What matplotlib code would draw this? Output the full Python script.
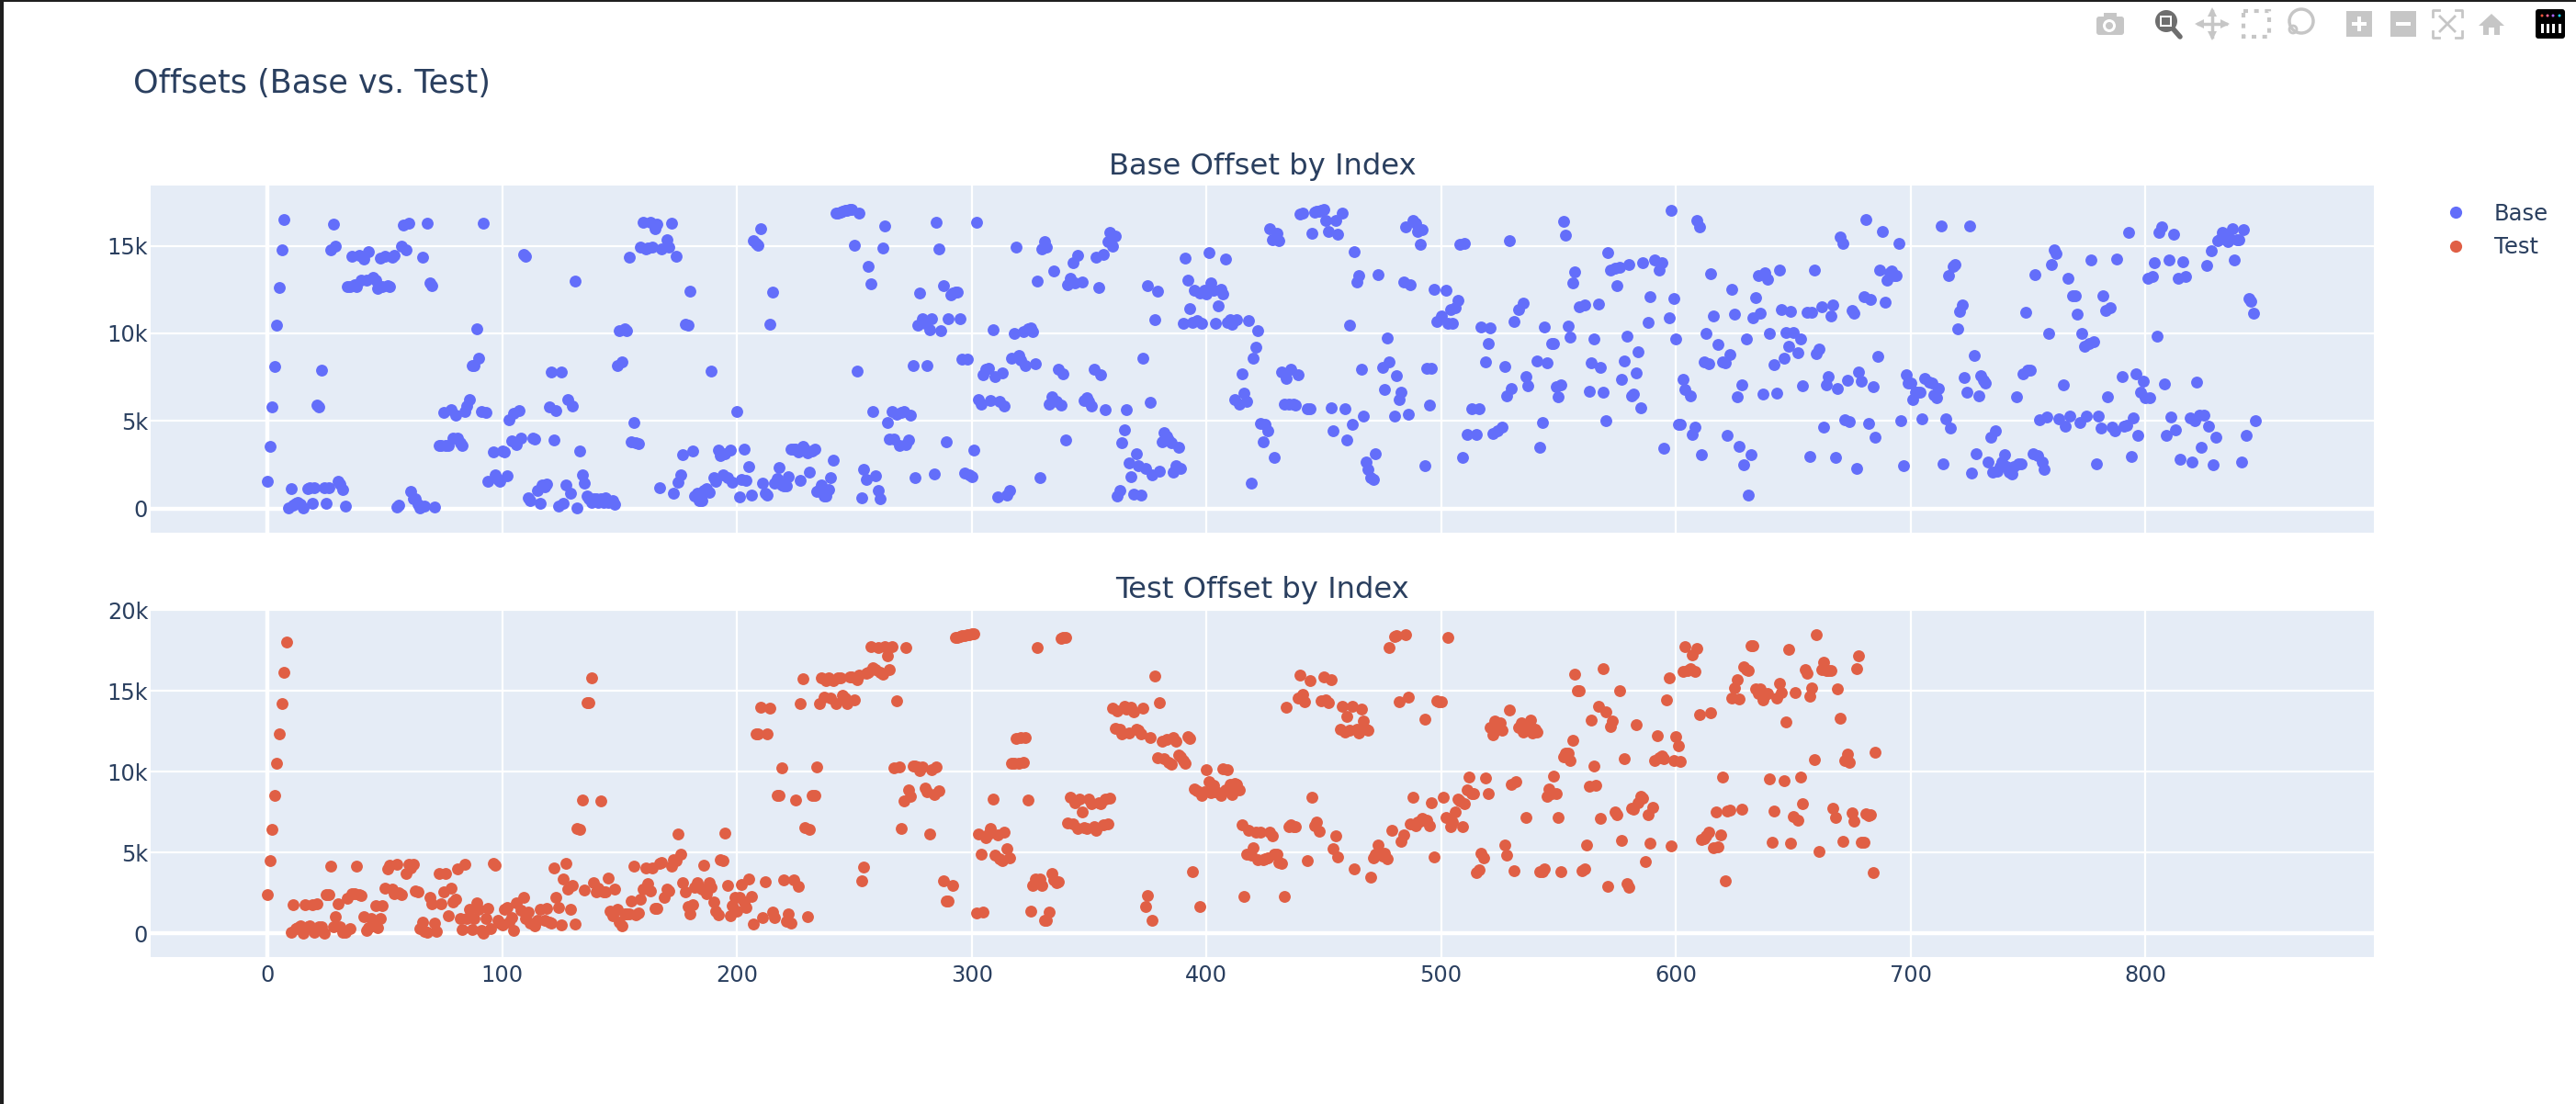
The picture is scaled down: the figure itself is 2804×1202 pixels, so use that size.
"""
Offsets (Base vs. Test): two stacked scatter panels in the plotly look.

Output:
- Saves the figure to: out.png
"""

import numpy as np
import matplotlib
matplotlib.use("Agg")
import matplotlib.pyplot as plt
from matplotlib.lines import Line2D
from matplotlib.patches import Circle, FancyBboxPatch, Rectangle

OUTPUT_PATH = "out.png"
FIG_W, FIG_H = 2804, 1202

BASE_COLOR = "#636efa"
TEST_COLOR = "#e05f45"
TEXT_COLOR = "#2a3f5f"
PLOT_BG = "#e5ecf6"
ICON_GRAY = "#c6c6c6"

# Offsets by position in the list: the position is the index, None where nothing could be read
BASE_OFFSET = [
    1540, 3570, 5800, 8120, 10450, 12620, 14760, 16500, None, 40,
    1160, 180, 300, 380, 240, 40, None, 1140, 1180, 300,
    1180, 5900, 5820, 7880, 1180, 280, 1220, 14780, 16250, 15000,
    1540, 1380, 1080, 160, 12650, 12650, 14400, 12780, 12650, 14480,
    13020, 14220, 13020, 14660, None, 13220, 13020, 12580, 14280, 12650,
    14420, 12740, 12650, 14360, 14480, 120, 180, 15000, 16190, 14760,
    16300, 1000, 540, 540, 240, 40, 14360, 140, 16270, 12880,
    12720, 100, None, 3610, 3590, 5480, 3600, 3630, 5660, 4030,
    5360, 4010, 3750, 3590, 5560, 5860, 6200, 8160, 8160, 10250,
    8570, 5540, 16290, 5480, 1580, None, 3250, 1950, 1650, 1580,
    3270, 3250, 1900, 5050, 3850, 5460, 3650, 5600, 4010, 14500,
    14420, 600, 440, 4010, 3990, 1040, 320, 1340, 1240, 1400,
    5820, 7820, 3930, 5620, 160, 7820, 300, 1360, 6220, 900,
    5860, 13000, 20, 3310, 1930, 1460, 700, 540, 340, 540,
    540, 340, 540, 340, 600, 340, None, 440, 260, 8160,
    10170, 8400, 10270, 10170, 14340, 3790, 4930, 3750, 3690, 14940,
    16350, 14820, 14880, 16350, 14940, 15990, 16230, 1220, 14820, None,
    15350, 14920, 16310, 860, 14380, 1500, 1930, 3090, 10530, 10450,
    12400, 3310, 720, 860, 460, 460, 1040, 1140, 940, 7860,
    1790, 1540, 3350, 3030, 1950, 3110, 1750, 3350, 1500, None,
    5520, 650, 1680, 3370, 1640, 2380, 770, 15270, 15130, 15040,
    15950, 1470, 890, 770, 10520, 12370, 1470, 1710, 2340, 1330,
    1290, 1290, 1800, 3390, 3420, 3400, 3250, 1640, 3560, 3420,
    3200, 2080, 3300, 3420, 980, 1070, 1330, 720, 720, 1100,
    1750, 2760, 16840, 16880, 16930, 16960, 17000, 17020, 17050, 17090,
    15020, 7840, 16840, 630, 2220, 1690, 13800, 12820, 5520, 1870,
    1030, 590, 14880, 16140, 4940, 3950, 5570, 3950, 5400, 3600,
    5490, 5520, 3650, 3900, 5360, 8140, 1750, 10460, 12330, 10850,
    10590, 8190, 10200, 10850, 1970, 16350, 14810, 10180, 12700, 3790,
    10850, 12210, 12330, 12370, 12370, 10850, 8510, 2030, 8530, 1940,
    1850, 3340, 16350, 6220, 5990, 7630, 7970, 8000, 6170, 10200,
    7530, 650, 6100, 7740, 5870, 800, 1030, 8560, 10010, 14920,
    8720, 8490, 10100, 8190, 10240, 10320, 10080, 8250, 13000, 1780,
    14800, 15220, 14900, 5990, 6360, 13560, 6100, 7980, 5900, 7690,
    3910, 12770, 13170, 14050, 12860, 14430, None, 12960, 6170, 6340,
    6130, 5870, 7930, 14330, 12600, 7630, 14520, 5640, 15220, 15780,
    14990, 15570, 720, 1030, 3770, 4520, 5630, 2590, 1820, 840,
    3130, 2430, 790, 8560, 2320, 12740, 6080, 1940, 10780, 12420,
    2130, 3830, 4350, 4120, 3900, 3770, 2110, 2430, 3480, 2290,
    10590, 14290, 13030, 11440, 10640, 12460, 10710, 12280, 10550, 12460,
    12250, 14610, 12880, 12460, 10550, 11550, 12510, 12230, 14260, 10620,
    10800, 10500, 6220, 10800, 5990, 7670, 6570, 6100, 10730, 1480,
    8580, 9220, 10150, 4860, 3830, 4820, 4470, 15970, 15360, 2950,
    15710, 15300, 7790, 5960, 7440, 5990, 7930, 5990, 5920, 7650,
    16820, 16880, None, 5700, 5700, 15720, 16930, 16960, 16960, 17020,
    17050, 16440, 15830, 5780, 4470, 16440, 15640, None, 16880, 5700,
    3910, 10460, 4820, 14660, 12910, 13290, 7980, 5260, 2640, 2240,
    1760, 1690, 3160, 13350, None, 8050, 6800, 9720, 8400, None,
    5260, 7600, 6220, 6620, 12910, 16090, 5400, 12800, 16440, 16300,
    15830, 15090, 15910, 2450, 8000, 5920, 8000, 12540, 10670, None,
    11020, None, 12470, 10590, 11370, 10590, 11460, 11900, 15080, 2900,
    15130, 4210, None, 5700, None, 4250, 5700, 10360, None, 8400,
    9430, 10290, 4280, None, 4470, None, 4650, 8090, 6450, 15290,
    6870, 10670, None, 11370, None, 11720, 7560, 7010, None, None,
    None, 8440, 3510, 4910, 10360, 8320, None, 9420, 9420, 6970,
    6360, 7040, 16390, 15620, 10410, 9780, 12890, 13500, None, 11530,
    None, 11630, None, 6710, 8300, 9710, None, 11670, 8050, 6660,
    5000, 14620, 13640, None, 13730, 12750, 13780, 7390, 8440, 9850,
    13910, 6450, 6520, 7740, 8960, 5780, 14030, None, 10620, 12110,
    None, 14170, None, 13640, 14030, 3460, None, 10900, 17000, 11980,
    9710, 4820, 4820, 7390, 6780, None, 6430, 4260, 4650, 16440,
    16090, 3070, 8400, 9980, 8260, 13380, 11020, None, 9360, None,
    8400, 8320, 4160, 8800, 12490, 11080, 6380, 3550, 7080, 2500,
    9660, 800, 3070, 10900, 12040, 13290, 11150, 6530, 13470, 13070,
    10010, None, 8230, 6570, 13610, 11340, 8610, 10060, 9280, 11250,
    10060, None, 8890, 9660, 7010, None, 11220, 2990, 11220, 13590,
    8840, 9100, 11500, 4660, 7060, 7560, 10990, 11620, 2900, 6830,
    15480, 15110, 5050, 7350, 4960, 11290, 11150, 2290, 7790, 7270,
    12110, 16490, 4870, 11950, 6950, 4070, 8700, 13640, 15830, 11770,
    13030, 13470, 13560, 13290, 13290, 15130, 5000, 2460, 7620, 7150,
    7150, 6220, 6620, 6660, 6620, 5120, 7440, None, 7230, 7150,
    6480, 6310, 6830, 16120, 2570, 5120, 13290, 4590, 13850, 13910,
    10240, 11250, 11600, 7490, 6660, 16120, 2030, 8750, 3160, 6450,
    7600, 7350, 7150, 2670, 4090, 2110, 4420, 2150, 2400, 2640,
    3070, 2400, 2110, 1970, 2400, 6390, 2550, 2550, 7700, 11230,
    7910, 7910, 3160, 13350, 3020, 5080, 2640, 2250, 5220, 9980,
    13940, 14780, 14550, 5120, None, 7040, 4700, 13120, 5290, 12160,
    12160, 11080, 4910, 10010, 9280, 5290, 9400, 14190, 9540, 2550,
    5290, 4610, 12160, 11290, 6390, 11460, 4650, 4420, 14220, None,
    7530, 4700, 4740, 15790, 2990, 5170, 7700, 4160, 6660, 7300,
    6310, 13120, 6310, 13260, 14030, 9840, 15740, 16090, 7130, 4180,
    14200, 5210, 15650, 4510, 13170, 2810, 14080, 13260, None, 5170,
    2640, 5000, 7230, 5350, 3510, 5350, 13870, 4730, 14710, 2520,
    4070, 15300, 15390, 15780, 15650, 15220, 15390, 16000, 14170, 15340,
    15340, 2640, 15910, 4160, 11980, 11840, 11150, 5000,
]

TEST_OFFSET = [
    2380, 4470, 6430, 8500, 10490, 12340, 14200, 16140, 18000, None,
    40, 1750, 290, 350, 480, 20, 1770, 420, 480, 1750,
    40, 1810, 420, 420, 0, 2410, 2400, 4160, 400, 1030,
    1820, 400, 80, 40, 2170, 290, 2470, 2420, 4130, 2380,
    2320, 1050, 190, 320, 930, 480, 1710, 360, 930, 1690,
    2790, 3970, 4220, 2740, 2450, 4280, 2500, 2380, None, 3710,
    4280, 4030, 4260, 2600, 2530, 290, 700, 130, 80, 2190,
    1840, 610, 130, 3670, 1840, 2530, 3690, 1080, 2790, 1940,
    2130, 3990, 930, 230, 4280, 930, 1500, 230, 890, 1900,
    1500, 190, 0, 890, 1560, 290, 4320, 4220, 800, 610,
    510, 1460, 1600, 670, 990, 170, 1880, None, 1430, 2190,
    930, 1310, 610, None, 480, 800, 1500, None, 800, 1520,
    700, 630, 4030, 2220, 1580, 510, 3350, 4300, 2740, 1460,
    2950, 550, 6500, 6440, 8230, 2660, 14240, 14240, 15820, 3140,
    2550, 2790, 8210, 2570, 2570, 3400, 1350, 1080, 2740, 1460,
    670, 460, 1180, 1180, 1180, 2000, 4160, 1120, 1270, 2130,
    2700, 4010, 3080, 2600, 4050, 1560, 1520, 4320, 4350, 2220,
    2700, 2600, 4130, 4560, 4500, 6160, 4890, 3120, 2530, 1650,
    1220, 1750, 2850, 3140, 2850, 2700, 4220, 2450, 3140, 2850,
    1940, 1370, 1120, 4560, 4500, 6220, 2980, 1080, 1690, 2220,
    1360, 2220, 3030, 1930, 1590, 3350, 2250, 590, 12350, 12350,
    13960, 980, 3160, 12350, 13900, 1310, 980, 8520, 8500, 10210,
    3310, 740, 1170, 640, 3300, 8220, 2920, 14200, 15720, 6520,
    1020, 6400, 8520, 8500, 10270, 14190, 15800, 14620, 15630, 15800,
    14530, 15630, 14200, 15810, 15800, 14720, 14530, 14200, 15850, 15850,
    14450, 15660, 15950, 3240, 4070, 16100, 16140, 17750, 16420, 16330,
    17650, 16140, 16040, 17750, 17180, 16330, 17710, 10210, 14390, 10270,
    6460, 8160, 17690, 8840, 8470, 10340, 10320, 10270, 10080, 10300,
    8980, 8750, 6140, 10130, 8560, 10270, 8810, None, 3240, 2010,
    1970, None, 2940, 18280, 18310, 18340, 18390, 18410, 18440, 18470,
    18500, 18500, 1230, 6160, 4870, 1310, 5910, 6160, 6480, 8280,
    4810, 6100, 4580, 4490, 6230, 5210, 4680, 10510, 10510, 12060,
    10510, 12100, 10550, 12100, 8220, 1360, 2940, 3350, 17650, 3350,
    2940, 780, 780, 1330, 3690, 3310, 3130, 3160, 18260, 18280,
    18310, 6800, 8430, 6760, 8050, 6480, 8280, 7520, 6520, 6480,
    8280, 7990, 6570, 6380, 8090, 7990, 6720, 8310, 6760, 8330,
    13920, 12690, 13770, 12630, 12310, 14050, 13860, 12410, 14000, 13670,
    12630, 12540, 12350, 13900, 1650, 2310, 12120, 800, 15890, 10830,
    14240, 11880, 10780, 11970, 10590, 10450, 12120, 11880, 11020, 10890,
    10700, 10510, 12160, 12030, 3810, 8940, 8810, 1650, 8500, 8750,
    10130, 9380, 8690, 9170, 8750, 8700, 8520, 10170, 8840, 10130,
    9220, 8560, 9260, 9220, 8880, 6720, 2270, 4910, 6380, 4830,
    5280, 6230, 4530, 6230, 4530, 4620, 4680, 6230, 6000, 4870,
    4870, 4390, 4340, 2270, 13960, 6610, 6700, 6570, 6600, 14530,
    15950, 14750, 14300, 4490, 15630, 8430, 6670, 6860, 6290, 14380,
    15850, 14430, 14240, 15660, 5250, 6040, 4720, 12630, 14020, 12440,
    13430, 12580, 14020, 3980, 12600, 12410, 13840, 13110, 12630, 12580,
    3450, 4680, 4870, 5430, 4870, 4770, 4960, 4620, 17670, 6340,
    18350, 18390, 14340, 5680, 6060, 18470, 14620, 6760, 8390, 6670,
    6860, 6950, 7080, 13260, 6990, 6670, 8050, 4740, 14380, 14300,
    14340, 8390, 7180, 18280, 6610, 6860, 7520, 8310, 8180, 6570,
    7990, 8880, 9660, 8660, 8660, 3770, 3920, 4960, 4640, 9600,
    8640, 12730, 12290, 13110, 12630, 13010, 12580, 5470, 4810, 13830,
    9220, 3840, 9380, 12730, 13010, 12440, 7140, 12730, 13160, 12390,
    12630, 12440, 3790, 3830, 3960, 8470, 8920, 8660, 9700, 8620,
    7140, 3830, 10890, 11120, 11120, 10700, 11910, 16040, 15020, 15020,
    3880, 3980, 5470, 9070, 13200, 10360, 9130, 14050, 7080, 16380,
    13670, 2900, 12770, 13140, 7480, 7330, 14980, 5760, 10810, 3070,
    2860, 7750, 7650, 12880, 8050, 8470, 8350, 4450, 7330, 5570,
    7770, 10700, 12200, 10830, 10970, 10780, 14430, 15810, 5400, 10700,
    12160, 11590, 10610, 16190, 17750, 16270, 16380, 17240, 16180, 17630,
    13520, 5780, 5850, 6000, 6230, 13620, 5280, 7480, 5360, 6100,
    9660, 3220, 7560, 7610, 14560, 15170, 15700, 14490, 7670, 16460,
    16330, 16230, 17780, 17780, 15130, 14810, 15090, 14430, 14720, 14810,
    9550, 5630, 7560, 14530, 15470, 14870, 9410, 13070, 17540, 5570,
    7240, 14910, 6990, 9640, 7990, 16290, 16080, 14680, 15190, 10740,
    18490, 5040, 16290, 16760, 16230, 16270, 16250, 7750, 7180, 15110,
    13280, 5700, 10700, 11080, 10590, 7440, 6910, 16380, 17160, 5640,
    5640, 7410, 7270, 7310, 3730, 11170,
]

X_TICKS = [0, 100, 200, 300, 400, 500, 600, 700, 800]
BASE_Y_TICKS = [0, 5000, 10000, 15000]
BASE_Y_LABELS = ["0", "5k", "10k", "15k"]
TEST_Y_TICKS = [0, 5000, 10000, 15000, 20000]
TEST_Y_LABELS = ["0", "5k", "10k", "15k", "20k"]


def axes_rect(left, top, right, bottom):
    """Axes rectangle from pixel edges, y measured from the top."""
    return [left / FIG_W, 1 - bottom / FIG_H, (right - left) / FIG_W, (bottom - top) / FIG_H]


def style_panel(ax, y_ticks, y_labels, ylim):
    ax.set_facecolor(PLOT_BG)
    ax.set_xlim(-49.8, 897.4)
    ax.set_ylim(*ylim)
    ax.set_axisbelow(True)
    for spine in ax.spines.values():
        spine.set_visible(False)
    ax.set_xticks(X_TICKS)
    ax.set_yticks(y_ticks)
    ax.set_yticklabels(y_labels)
    ax.grid(True, color="white", linewidth=1.6)
    ax.axhline(0, color="white", linewidth=3.2, zorder=1)
    ax.axvline(0, color="white", linewidth=3.2, zorder=1)
    ax.tick_params(length=0, labelsize=17.3, labelcolor=TEXT_COLOR)
    ax.tick_params(axis="y", pad=2)
    ax.tick_params(axis="x", pad=6)


def draw_modebar(fig):
    # Toolbar icons along the top right, drawn in pixel coordinates
    bar = fig.add_axes([0, 0, 1, 1], facecolor="none", zorder=5)
    bar.set_xlim(0, FIG_W)
    bar.set_ylim(FIG_H, 0)
    bar.axis("off")

    # window edge of the screenshot
    bar.add_patch(Rectangle((0, 0), FIG_W, 2, color="#1e1e1e", lw=0))
    bar.add_patch(Rectangle((0, 0), 4, FIG_H, color="#1e1e1e", lw=0))

    # camera
    bar.add_patch(FancyBboxPatch((2282, 18), 30, 20, boxstyle="round,pad=0,rounding_size=3", color=ICON_GRAY, lw=0))
    bar.add_patch(Rectangle((2290, 14), 14, 5, color=ICON_GRAY, lw=0))
    bar.add_patch(Circle((2296, 28), 7, color="white", lw=0))
    bar.add_patch(Circle((2296, 28), 4, color=ICON_GRAY, lw=0))

    # zoom
    bar.plot([2366, 2373], [32, 40], color="#6e6e6e", lw=4, solid_capstyle="round")
    bar.add_patch(Circle((2358, 23), 12, color="#6e6e6e", lw=0))
    bar.add_patch(Rectangle((2351, 17), 13, 12, color="white", lw=0))
    bar.add_patch(Rectangle((2353, 19), 9, 8, color="#6e6e6e", lw=0))

    # pan
    bar.plot([2393, 2423], [26, 26], color=ICON_GRAY, lw=2.5)
    bar.plot([2408, 2408], [12, 40], color=ICON_GRAY, lw=2.5)
    for x, y, marker in [(2394, 26, "<"), (2422, 26, ">"), (2408, 13, "^"), (2408, 39, "v")]:
        bar.plot(x, y, marker=marker, color=ICON_GRAY, ms=7, mew=0)

    # box select
    bar.add_patch(Rectangle((2442, 12), 28, 28, fill=False, ec=ICON_GRAY, lw=3, ls=(0, (1.2, 1.6))))

    # lasso
    bar.add_patch(Circle((2505, 23), 13, fill=False, ec=ICON_GRAY, lw=2.5))
    bar.add_patch(Circle((2496, 32), 4, fill=False, ec=ICON_GRAY, lw=2))

    # zoom in, zoom out
    bar.add_patch(Rectangle((2554, 12), 28, 28, color=ICON_GRAY, lw=0))
    bar.add_patch(Rectangle((2560, 24), 16, 4, color="white", lw=0))
    bar.add_patch(Rectangle((2566, 18), 4, 16, color="white", lw=0))
    bar.add_patch(Rectangle((2602, 12), 28, 28, color=ICON_GRAY, lw=0))
    bar.add_patch(Rectangle((2608, 24), 16, 4, color="white", lw=0))

    # autoscale
    for xs, ys in [
        ([2648, 2648, 2655], [18, 11, 11]), ([2673, 2680, 2680], [11, 11, 18]),
        ([2648, 2648, 2655], [34, 41, 41]), ([2673, 2680, 2680], [41, 41, 34]),
        ([2656, 2672], [18, 34]), ([2656, 2672], [34, 18]),
    ]:
        bar.plot(xs, ys, color=ICON_GRAY, lw=2)

    # home
    bar.fill([2698, 2712, 2726], [28, 15, 28], color=ICON_GRAY, lw=0)
    bar.add_patch(Rectangle((2703, 28), 18, 10, color=ICON_GRAY, lw=0))
    bar.add_patch(Rectangle((2709, 30), 6, 8, color="white", lw=0))

    # plotly logo
    bar.add_patch(FancyBboxPatch((2760, 10), 32, 32, boxstyle="round,pad=0,rounding_size=3", color="black", lw=0))
    for x in (2766, 2772, 2778, 2785):
        bar.add_patch(Rectangle((x, 26), 3, 10, color="white", lw=0))
    for x, color in [(2767, "#ef553b"), (2773, "#ff6692"), (2779, "#ab63fa"), (2786, "#19d3f3")]:
        bar.add_patch(Circle((x, 17), 1.5, color=color, lw=0))


def main() -> None:
    fig = plt.figure(figsize=(FIG_W / 100, FIG_H / 100), dpi=100, facecolor="white")

    ax_base = fig.add_axes(axes_rect(164, 202, 2584, 580))
    ax_test = fig.add_axes(axes_rect(164, 664, 2584, 1042))

    style_panel(ax_base, BASE_Y_TICKS, BASE_Y_LABELS, (-1373, 18437))
    style_panel(ax_test, TEST_Y_TICKS, TEST_Y_LABELS, (-1477, 20000))
    ax_base.tick_params(axis="x", labelbottom=False)

    base_y = np.array(BASE_OFFSET, dtype=float)
    test_y = np.array(TEST_OFFSET, dtype=float)
    ax_base.scatter(np.arange(len(base_y)), base_y, s=86, color=BASE_COLOR, linewidths=0, zorder=3)
    ax_test.scatter(np.arange(len(test_y)), test_y, s=86, color=TEST_COLOR, linewidths=0, zorder=3)

    ax_base.set_title("Base Offset by Index", fontsize=23.2, color=TEXT_COLOR, pad=9)
    ax_test.set_title("Test Offset by Index", fontsize=23.2, color=TEXT_COLOR, pad=9)
    fig.text(145 / FIG_W, 1 - 91 / FIG_H, "Offsets (Base vs. Test)", fontsize=25.2, color=TEXT_COLOR, va="center")

    handles = [
        Line2D([], [], ls="none", marker="o", ms=9.5, mew=0, color=BASE_COLOR, label="Base"),
        Line2D([], [], ls="none", marker="o", ms=9.5, mew=0, color=TEST_COLOR, label="Test"),
    ]
    fig.legend(
        handles=handles,
        loc="upper left",
        bbox_to_anchor=(2649 / FIG_W, 1 - 221 / FIG_H),
        frameon=False,
        fontsize=17.5,
        labelcolor=TEXT_COLOR,
        handletextpad=0.7,
        labelspacing=0.5,
        borderpad=0,
        borderaxespad=0,
    )

    draw_modebar(fig)

    fig.savefig(OUTPUT_PATH, dpi=100)


if __name__ == "__main__":
    main()
